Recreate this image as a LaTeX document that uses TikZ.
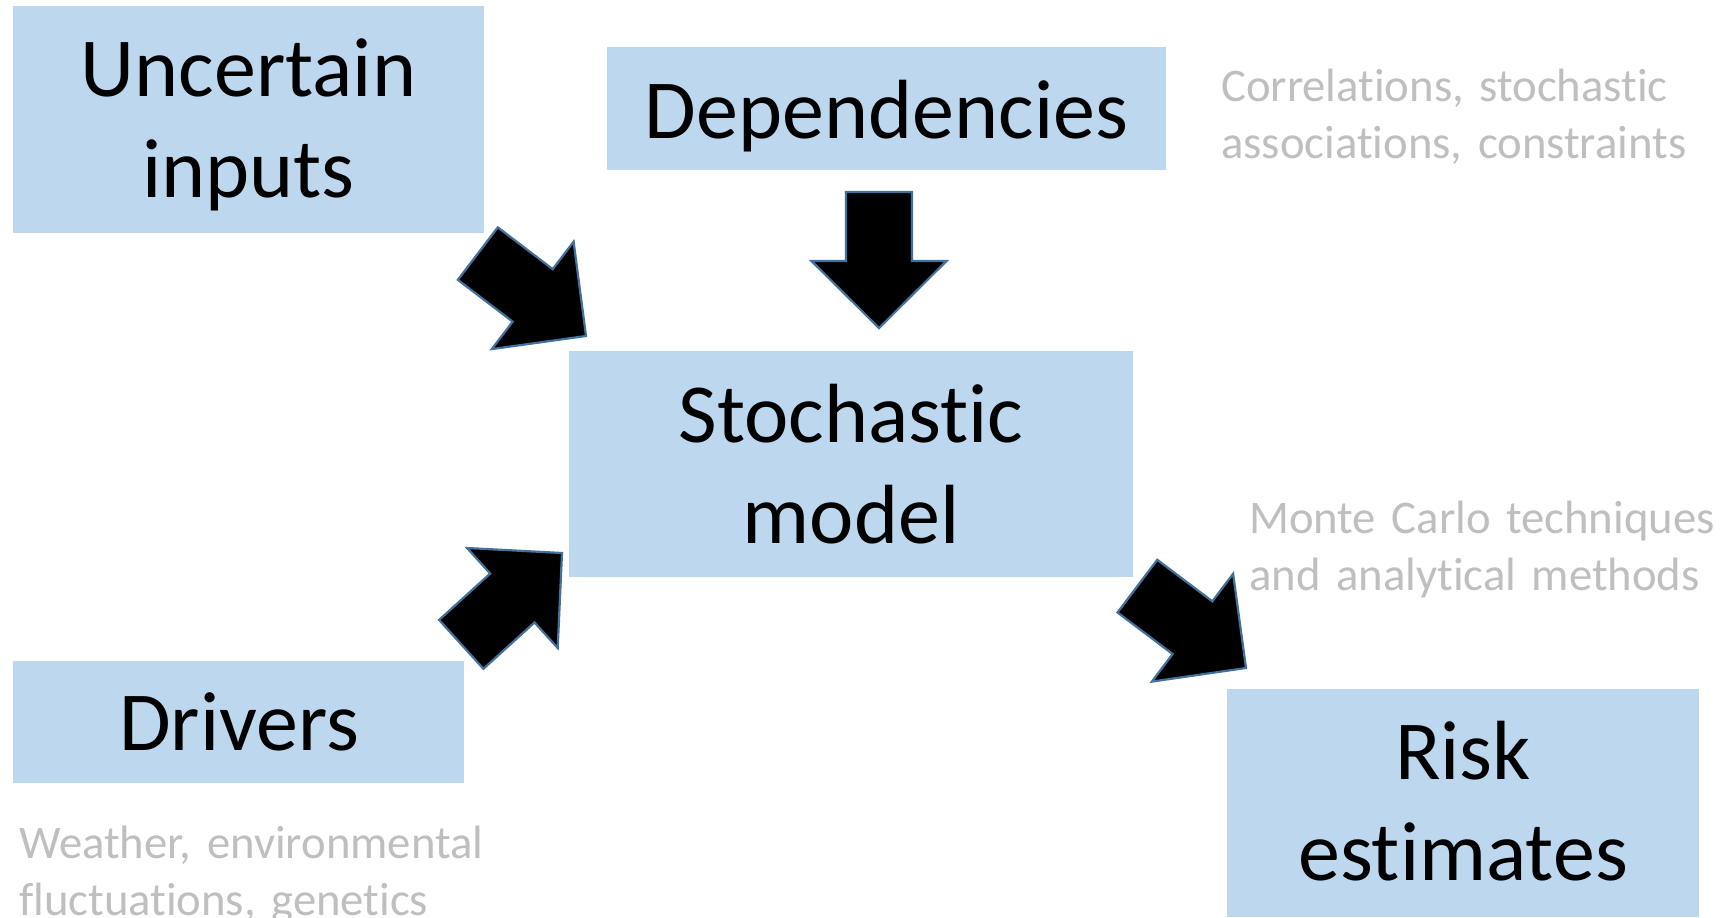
\documentclass[tikz,border=0pt]{standalone}
\usepackage{fontspec}
\setmainfont{Carlito}[Ligatures={NoCommon,NoRare,NoContextual},Contextuals={NoAlternate}]
\newcommand\nti{t\kern0pt i}
\definecolor{boxblue}{HTML}{BDD7EE}
\definecolor{notegray}{HTML}{BFBFBF}
\definecolor{edgeblue}{HTML}{41719C}
\tikzset{
  box/.style={fill=boxblue, draw=none, inner sep=0pt, anchor=north west},
  bigtext/.style={font=\fontsize{84}{101.5}\selectfont, text width=560pt, align=center, anchor=base, inner sep=0pt},
  notetext/.style={font=\fontsize{46.7}{57}\selectfont, text=notegray, text width=600pt, align=left, anchor=base west, inner sep=0pt},
  blockarrow/.style={fill=black, draw=edgeblue, line width=2.2pt, line join=miter},
}
\newcommand\blkarrow[2]{%
  \draw[blockarrow, shift={(#1)}, rotate=#2]
    (0,0) -- (-67,-67.5) -- (-67,-33) -- (-136,-33) -- (-136,33) -- (-67,33) -- (-67,67.5) -- cycle;}
\begin{document}
\begin{tikzpicture}[x=1pt,y=-1pt]
\useasboundingbox (0,0) rectangle (1733,918);
\fill[white] (0,0) rectangle (1733,918);

% boxes
\node[box, minimum width=471pt, minimum height=227pt] (unc) at (13,6) {};
\node[box, minimum width=559pt, minimum height=123pt] (dep) at (607,47) {};
\node[box, minimum width=564pt, minimum height=226pt] (sto) at (569,351) {};
\node[box, minimum width=451pt, minimum height=122pt] (drv) at (13,661) {};
\node[box, minimum width=472pt, minimum height=228pt] (risk) at (1227,689) {};

% box texts
\node[bigtext] (uncT) at (248.5,96) {Uncertain\\inputs};
\node[bigtext] (depT) at (886.5,138) {Dependencies};
\node[bigtext] (stoT) at (851,442) {Stochas\nti c\\model};
\node[bigtext] (drvT) at (239,750) {Drivers};
\node[bigtext] (riskT) at (1463,779) {Risk\\es\nti mates};

% notes
\node[notetext] (depN) at (1221,101) {Correla\nti ons, stochas\nti c\\associa\nti ons, constraints};
\node[notetext] (riskN) at (1249,533) {Monte Carlo techniques\\and analy\nti cal methods};
\node[notetext] (drvN) at (19,858) {Weather, environmental\\fluctua\nti ons, gene\nti cs};

% block arrows (tip positions)
\coordinate (tipU) at (586,336);
\coordinate (tipD) at (879,328);
\coordinate (tipV) at (562,553);
\coordinate (tipR) at (1246,668);
\blkarrow{tipU}{-37.3}
\blkarrow{tipD}{-90}
\blkarrow{tipV}{42.2}
\blkarrow{tipR}{-37}
\end{tikzpicture}
\end{document}
